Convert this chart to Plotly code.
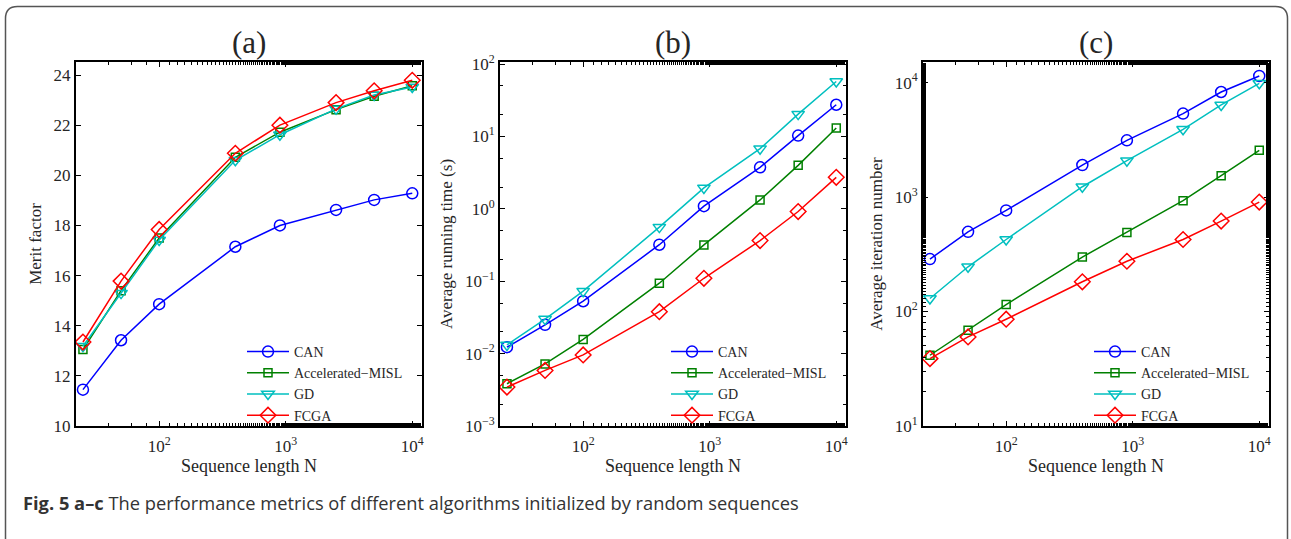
import plotly.graph_objects as go

N = [25, 50, 100, 400, 900, 2500, 5000, 10000]
series_names = ["CAN", "Accelerated\u2212MISL", "GD", "FCGA"]

merit_can = [11.45, 13.42, 14.86, 17.15, 18.0, 18.62, 19.02, 19.28]
merit_misl = [13.05, 15.4, 17.5, 20.72, 21.72, 22.62, 23.15, 23.57]
merit_gd = [13.18, 15.3, 17.42, 20.6, 21.62, 22.65, 23.2, 23.52]
merit_fcga = [13.35, 15.78, 17.84, 20.88, 22.0, 22.9, 23.37, 23.79]

time_can = [0.0123, 0.025, 0.053, 0.32, 1.09, 3.75, 10.3, 27.5]
time_misl = [0.00384, 0.0072, 0.0157, 0.094, 0.318, 1.33, 4.0, 13.1]
time_gd = [0.0132, 0.030, 0.073, 0.56, 1.95, 6.8, 20.4, 57.7]
time_fcga = [0.00345, 0.00586, 0.0096, 0.038, 0.110, 0.365, 0.92, 2.73]

iter_can = [287, 497, 764, 1905, 3130, 5360, 8280, 11430]
iter_misl = [41.5, 68.7, 115, 299, 491, 929, 1537, 2560]
iter_gd = [130, 246, 426, 1231, 2080, 3910, 6380, 9860]
iter_fcga = [38.8, 60, 85.7, 182, 275, 426, 617, 904]

x_tickvals = [100, 1000, 10000]
x_ticktext = ["10<sup>2</sup>", "10<sup>3</sup>", "10<sup>4</sup>"]
merit_ticks = [10, 12, 14, 16, 18, 20, 22, 24]
time_tickvals = [1e-3, 1e-2, 1e-1, 1e0, 1e1, 1e2]
time_ticktext = ["10<sup>\u22123</sup>", "10<sup>\u22122</sup>", "10<sup>\u22121</sup>",
                 "10<sup>0</sup>", "10<sup>1</sup>", "10<sup>2</sup>"]
iter_tickvals = [1e1, 1e2, 1e3, 1e4]
iter_ticktext = ["10<sup>1</sup>", "10<sup>2</sup>", "10<sup>3</sup>", "10<sup>4</sup>"]

panel_titles = ["(a)", "(b)", "(c)"]
y_titles = ["Merit factor", "Average running time (s)", "Average iteration number"]
x_title = "Sequence length N"
caption = "<b>Fig. 5 a\u2013c</b> The performance metrics of different algorithms initialized by random sequences"

colors = ["#0000FF", "#008000", "#00BFBF", "#FF0000"]
symbols = ["circle-open", "square-open", "triangle-down-open", "diamond-open"]
msizes = [11, 8, 11, 12]

W, H = 1291, 539
SERIF = "Liberation Serif, Times New Roman, serif"
TXT = "#262626"

fig = go.Figure()

panels = [
    [merit_can, merit_misl, merit_gd, merit_fcga],
    [time_can, time_misl, time_gd, time_fcga],
    [iter_can, iter_misl, iter_gd, iter_fcga],
]
xpix = [(76, 422), (500, 846), (923, 1269)]
ytop, ybot = 62, 426
legend_x = [242, 666, 1089]

for p, data in enumerate(panels):
    xa = "x" if p == 0 else f"x{p+1}"
    ya = "y" if p == 0 else f"y{p+1}"
    lg = "legend" if p == 0 else f"legend{p+1}"
    for s in range(4):
        fig.add_trace(go.Scatter(
            x=N, y=data[s], mode="lines+markers", name=series_names[s],
            xaxis=xa, yaxis=ya, legend=lg,
            line=dict(color=colors[s], width=1.5),
            marker=dict(symbol=symbols[s], size=msizes[s], color=colors[s],
                        line=dict(color=colors[s], width=1.5)),
        ))

common_axis = dict(
    showline=True, linecolor="black", linewidth=2, mirror="ticks",
    ticks="inside", ticklen=5, tickcolor="black", tickwidth=1,
    showgrid=False, zeroline=False, automargin=False,
    tickfont=dict(family=SERIF, size=17, color=TXT),
)

layout = dict(
    template="none",
    width=W, height=H, autosize=False,
    margin=dict(l=0, r=0, t=0, b=0, pad=0),
    paper_bgcolor="white", plot_bgcolor="white",
    showlegend=True,
)

for p in range(3):
    sfx = "" if p == 0 else str(p + 1)
    x0, x1 = xpix[p]
    layout["xaxis" + sfx] = dict(
        common_axis, type="log", range=[1.343, 4.077],
        domain=[x0 / W, x1 / W], anchor="y" + sfx,
        tickvals=x_tickvals, ticktext=x_ticktext, ticklabelstandoff=4,
        minor=dict(ticks="inside", ticklen=3, tickcolor="black", showgrid=False),
        title=dict(text=x_title, font=dict(family=SERIF, size=18, color=TXT), standoff=4),
    )
    ydict = dict(
        common_axis, domain=[1 - ybot / H, 1 - ytop / H], anchor="x" + sfx,
        title=dict(text=y_titles[p], font=dict(family=SERIF, size=17, color=TXT), standoff=8),
    )
    if p == 0:
        ydict.update(range=[10, 24.52], tickvals=merit_ticks)
    elif p == 1:
        ydict.update(type="log", range=[-3, 2.03], tickvals=time_tickvals, ticktext=time_ticktext,
                     minor=dict(ticks="inside", ticklen=3, tickcolor="black", showgrid=False))
    else:
        ydict.update(type="log", range=[1, 4.18], tickvals=iter_tickvals, ticktext=iter_ticktext,
                     minor=dict(ticks="inside", ticklen=3, tickcolor="black", showgrid=False))
    layout["yaxis" + sfx] = ydict
    lgname = "legend" if p == 0 else f"legend{p+1}"
    layout[lgname] = dict(
        x=legend_x[p] / W, y=1 - 336 / H, xanchor="left", yanchor="top",
        bgcolor="rgba(255,255,255,0)", borderwidth=0,
        font=dict(family=SERIF, size=14, color=TXT),
        tracegroupgap=0, itemwidth=42,
    )

fig.update_layout(**layout)

annotations = []
for p in range(3):
    x0, x1 = xpix[p]
    annotations.append(dict(
        text=panel_titles[p], x=(x0 + x1) / 2 / W, y=1 - 42 / H,
        xref="paper", yref="paper", xanchor="center", yanchor="middle",
        showarrow=False, font=dict(family=SERIF, size=31, color=TXT),
    ))
annotations.append(dict(
    text=caption, x=21 / W, y=1 - 502 / H, xref="paper", yref="paper",
    xanchor="left", yanchor="middle", showarrow=False,
    font=dict(family="Open Sans, Noto Sans, sans-serif", size=18.3, color="#333333"),
))
fig.update_layout(annotations=annotations)

# rounded outer frame
r = 12
L, R, T, B = 5.5, 1287.5, 6.5, 560
def px(x):
    return x / W
def py(y):
    return 1 - y / H
path = (f"M {px(L)},{py(B)} L {px(L)},{py(T + r)} Q {px(L)},{py(T)} {px(L + r)},{py(T)} "
        f"L {px(R - r)},{py(T)} Q {px(R)},{py(T)} {px(R)},{py(T + r)} L {px(R)},{py(B)}")
fig.add_shape(type="path", path=path, xref="paper", yref="paper",
              line=dict(color="#555555", width=1.5), layer="below")

fig.write_html("out.html", config={"displayModeBar": False},
               post_script="document.body.style.margin='0';document.body.style.overflow='hidden';")
